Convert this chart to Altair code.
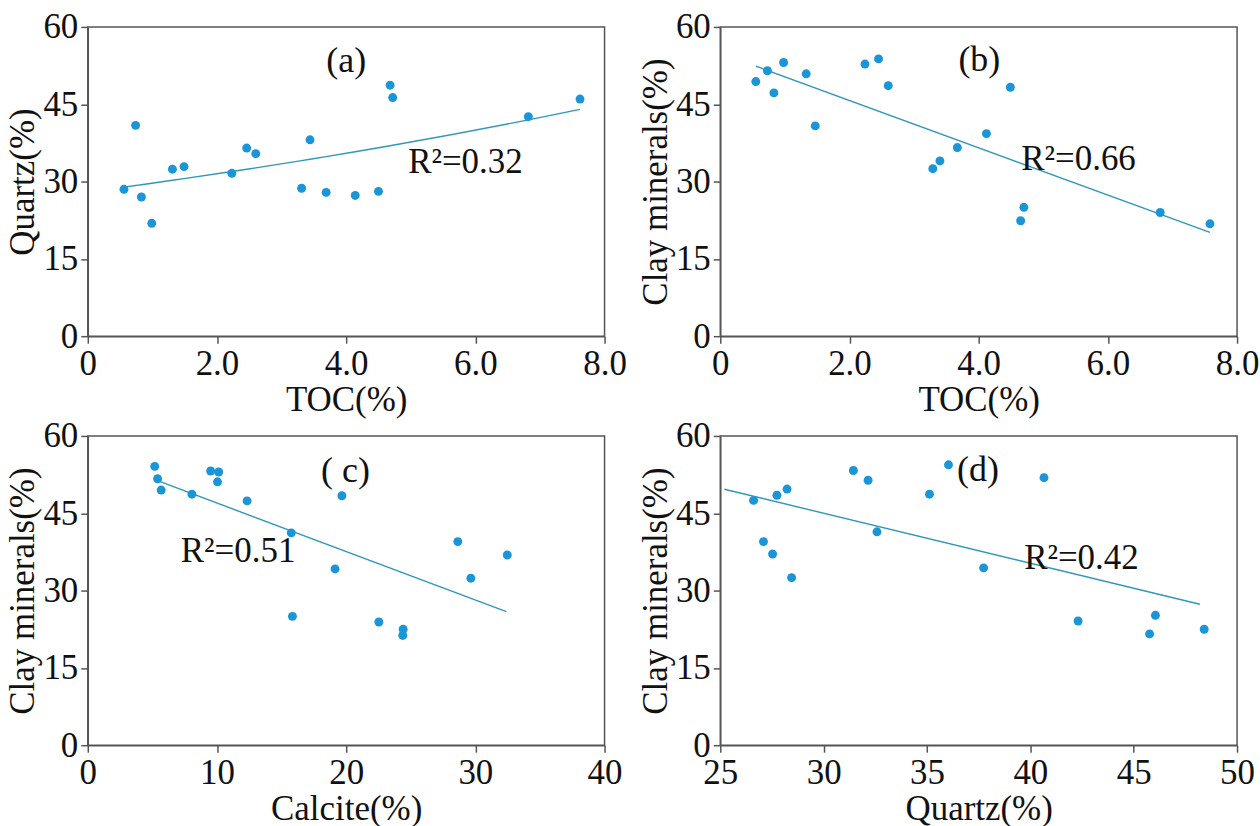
import altair as alt
import pandas as pd

# ---- data ----
toc_a = [0.56, 0.74, 0.83, 0.99, 1.31, 1.49, 2.23, 2.46, 2.60, 3.31, 3.44, 3.69, 4.14, 4.50, 4.68, 4.72, 6.82, 7.62]
quartz_a = [28.5, 40.9, 27.0, 21.9, 32.4, 32.9, 31.6, 36.5, 35.4, 28.7, 38.1, 27.9, 27.3, 28.1, 48.7, 46.3, 42.6, 46.0]

toc_b = [0.55, 0.73, 0.83, 0.98, 1.33, 1.47, 2.24, 2.45, 2.60, 3.29, 3.40, 3.67, 4.12, 4.49, 4.65, 4.70, 6.81, 7.58]
clay_b = [49.4, 51.5, 47.2, 53.1, 50.9, 40.8, 52.8, 53.8, 48.6, 32.5, 34.0, 36.6, 39.3, 48.3, 22.4, 25.0, 24.0, 21.8]

calcite_c = [5.18, 5.40, 5.68, 8.06, 9.51, 10.13, 10.04, 12.33, 15.75, 15.84, 19.67, 19.14, 22.53, 24.41, 24.38, 28.64, 29.65, 32.47]
clay_c = [54.1, 51.7, 49.5, 48.7, 53.2, 53.0, 51.1, 47.4, 41.2, 25.0, 48.4, 34.2, 23.9, 22.5, 21.3, 39.5, 32.4, 36.9]

quartz_d = [26.61, 27.09, 27.53, 27.74, 28.23, 28.45, 31.44, 32.15, 32.58, 35.12, 36.04, 37.74, 40.66, 42.31, 45.77, 46.05, 48.41]
clay_d = [47.5, 39.5, 37.1, 48.5, 49.7, 32.5, 53.3, 51.4, 41.4, 48.7, 54.4, 34.4, 51.9, 24.1, 21.6, 25.2, 22.5]

panel_labels = ["(a)", "(b)", "( c)", "(d)"]
r2_labels = ["R²=0.32", "R²=0.66", "R²=0.51", "R²=0.42"]

FONT = "Liberation Serif"
PT = "#1a96d8"
LN = "#2f97b8"
W, H = 518, 310


def panel(xs, ys, xtitle, ytitle, xdom, xvals, fmt1, label, lx, ly, r2, rx, ry, method, extent=None):
    df = pd.DataFrame({"x": xs, "y": ys})
    lab_expr = "datum.value == 0 ? '0' : format(datum.value, '.1f')" if fmt1 else "format(datum.value, 'd')"
    xenc = alt.X("x:Q", scale=alt.Scale(domain=xdom, nice=False, zero=False),
                 axis=alt.Axis(values=xvals, title=xtitle, labelExpr=lab_expr, titlePadding=1))
    yenc = alt.Y("y:Q", scale=alt.Scale(domain=[0, 60], nice=False),
                 axis=alt.Axis(values=[0, 15, 30, 45, 60], title=ytitle, titlePadding=2))
    base = alt.Chart(df)
    pts = base.mark_circle(size=80, color=PT, opacity=1).encode(x=xenc, y=yenc)
    if method == "exp":
        # exponential trend: least squares on ln(y), evaluated at each sample -> curved line
        line = (base.transform_calculate(ly="log(datum.y)")
                .transform_joinaggregate(mx="mean(x)", mly="mean(ly)")
                .transform_calculate(sxy="(datum.x-datum.mx)*(datum.ly-datum.mly)",
                                     sxx="(datum.x-datum.mx)*(datum.x-datum.mx)")
                .transform_joinaggregate(Sxy="sum(sxy)", Sxx="sum(sxx)")
                .transform_calculate(fit="exp(datum.mly + datum.Sxy/datum.Sxx*(datum.x-datum.mx))")
                .mark_line(color=LN, strokeWidth=1.4, interpolate="monotone")
                .encode(x="x:Q", y="fit:Q"))
    else:
        reg_kwargs = {}
        if extent is not None:
            reg_kwargs["extent"] = extent
        line = base.transform_regression("x", "y", **reg_kwargs).mark_line(
            color=LN, strokeWidth=1.4).encode(x="x:Q", y="y:Q")
    ann = pd.DataFrame({"x": [lx], "y": [ly], "t": [label]})
    t1 = alt.Chart(ann).mark_text(font=FONT, fontSize=36, color="#111", align="center",
                                  baseline="middle").encode(x="x:Q", y="y:Q", text="t:N")
    ann2 = pd.DataFrame({"x": [rx], "y": [ry], "t": [r2]})
    t2 = alt.Chart(ann2).mark_text(font=FONT, fontSize=35, color="#111", align="left",
                                   baseline="middle").encode(x="x:Q", y="y:Q", text="t:N")
    return alt.layer(line, pts, t1, t2).properties(width=W, height=H)


pa = panel(toc_a, quartz_a, "TOC(%)", "Quartz(%)", [0, 8], [0, 2, 4, 6, 8], True,
           panel_labels[0], 4.0, 53.4, r2_labels[0], 4.96, 33.8, "exp")
pb = panel(toc_b, clay_b, "TOC(%)", "Clay minerals(%)", [0, 8], [0, 2, 4, 6, 8], True,
           panel_labels[1], 4.01, 53.5, r2_labels[1], 4.66, 34.4, "linear")
pc = panel(calcite_c, clay_c, "Calcite(%)", "Clay minerals(%)", [0, 40], [0, 10, 20, 30, 40], False,
           panel_labels[2], 19.95, 53.2, r2_labels[2], 7.2, 37.7, "linear", [5.4, 32.4])
pd_ = panel(quartz_d, clay_d, "Quartz(%)", "Clay minerals(%)", [25, 50], [25, 30, 35, 40, 45, 50], False,
            panel_labels[3], 37.47, 53.4, r2_labels[3], 39.7, 36.4, "linear", [25.2, 48.2])

chart = alt.concat(pa, pb, pc, pd_, columns=2, spacing={"row": 100, "column": 116}, bounds="flush").configure(
    font=FONT, background="white", padding={"left": 5, "top": 8, "right": 0, "bottom": 0}
).configure_view(
    stroke="#555", strokeWidth=1.5
).configure_axis(
    grid=False, domainColor="#555", domainWidth=1.5, tickColor="#555", tickWidth=1.5, tickSize=7,
    labelFont=FONT, labelFontSize=35, labelColor="#111", labelPadding=3,
    titleFont=FONT, titleFontSize=35, titleFontWeight="normal", titleColor="#111",
    labelOverlap=False, labelFlush=False
)

chart.save("out.html", embed_options={"renderer": "svg", "actions": False})
